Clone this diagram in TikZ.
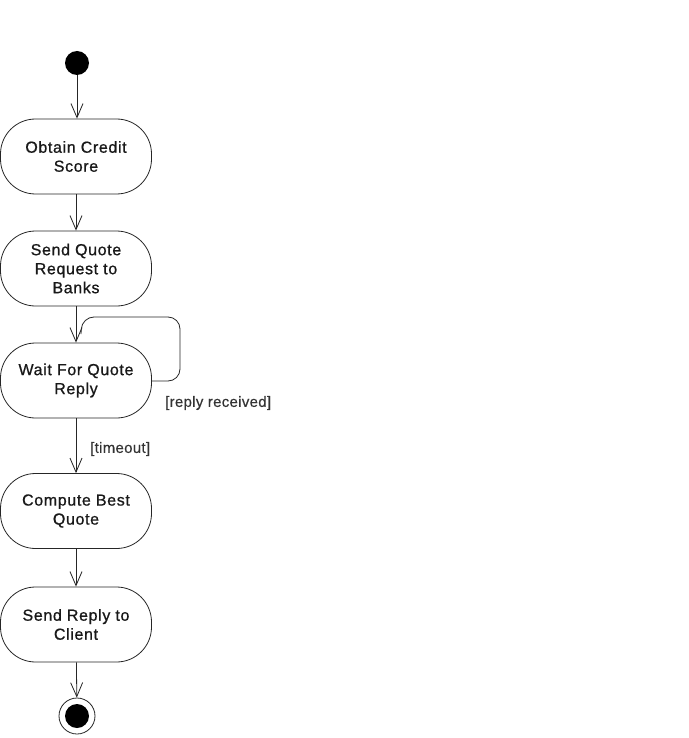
\documentclass[tikz,border=0pt]{standalone}
\usepackage{fontspec}
\setmainfont{Liberation Sans}
\newfontfamily\diagfont[LetterSpace=4,FakeBold=0.8]{Liberation Sans}
\newfontfamily\lblfont[LetterSpace=2,FakeBold=0.3]{Liberation Sans}
\usetikzlibrary{arrows.meta}
\begin{document}
\begin{tikzpicture}[x=1pt,y=-1pt,
  act/.style={draw=black!85, line width=0.8pt, rounded corners=35pt, minimum width=151pt, minimum height=75pt, align=center, font=\diagfont\fontsize{16}{19}\selectfont, text=black!90, inner sep=0pt},
  flow/.style={draw=black!85, line width=0.8pt, -{Straight Barb[length=14pt,width=12pt,line width=0.8pt]}},
  lbl/.style={font=\lblfont\fontsize{15}{18}\selectfont, text=black!80, inner sep=0pt}]
\useasboundingbox (0,0) rectangle (688,738);
\fill[white] (0,0) rectangle (688,738);
\node[circle, fill=black, minimum size=24pt, inner sep=0pt] (start) at (77,63) {};
\node[act] (n1) at (76,156.5) {Obtain Credit\\Score};
\node[act] (n2) at (76,268.5) {Send Quote\\Request to\\Banks};
\node[act] (n3) at (76,380.5) {Wait For Quote\\Reply};
\node[act] (n4) at (76,511) {Compute Best\\Quote};
\node[act] (n5) at (76,624.5) {Send Reply to\\Client};
\node[circle, draw=black!85, line width=0.8pt, minimum size=36pt, inner sep=0pt] (end) at (77,716) {};
\node[circle, fill=black, minimum size=24pt, inner sep=0pt] (endin) at (end.center) {};
\draw[flow] (start) -- (start |- n1.north);
\draw[flow] (n1) -- (n2);
\draw[flow] (n2) -- (n3);
\draw[flow] (n3) -- (n4);
\draw[flow] (n4) -- (n5);
\draw[flow] (n5) -- (end);
\coordinate (lp) at (81,334);
\draw[draw=black!85, line width=0.8pt, rounded corners=12pt] (n3.east |- 0,381) -- (180,381) -- (180,317) -- (82,317) -- (lp);
\node[lbl, anchor=west] (rr) at (165,403) {[reply received]};
\node[lbl, anchor=west] (to) at (90,449) {[timeout]};
\end{tikzpicture}
\end{document}
